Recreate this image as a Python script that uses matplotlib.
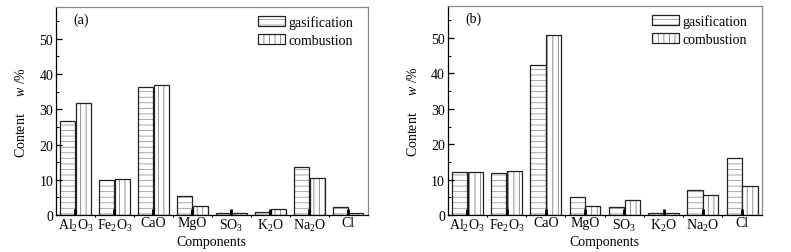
import matplotlib
matplotlib.use("Agg")
import matplotlib.pyplot as plt
import numpy as np
from matplotlib.ticker import MultipleLocator, FixedLocator

plt.rcParams['font.family'] = ['Liberation Serif', 'DejaVu Serif']
plt.rcParams['mathtext.fontset'] = 'custom'
plt.rcParams['mathtext.rm'] = 'Liberation Serif'
plt.rcParams['mathtext.it'] = 'Liberation Serif:italic'
plt.rcParams['mathtext.default'] = 'rm'
plt.rcParams['hatch.linewidth'] = 0.6

categories = ['Al$_2$O$_3$', 'Fe$_2$O$_3$', 'CaO', 'MgO', 'SO$_3$', 'K$_2$O', 'Na$_2$O', 'Cl']
series_names = ['gasification', 'combustion']
gas_a = [26.8, 10.0, 36.3, 5.4, 0.7, 0.85, 13.6, 2.3]
comb_a = [31.7, 10.3, 36.8, 2.6, 0.7, 1.8, 10.6, 0.7]
gas_b = [12.2, 12.0, 42.5, 5.0, 2.3, 0.5, 7.2, 16.1]
comb_b = [12.2, 12.5, 50.9, 2.5, 4.2, 0.5, 5.8, 8.2]
panel_labels = ['(a)', '(b)']
yticks = [0, 10, 20, 30, 40, 50]

fig = plt.figure(figsize=(7.91, 2.53), dpi=100)
positions = [[0.0708, 0.146, 0.394, 0.822], [0.566, 0.146, 0.397, 0.826]]
data = [(gas_a, comb_a), (gas_b, comb_b)]

x = np.arange(len(categories))
w = 0.385
for pos, (g, c), lab in zip(positions, data, panel_labels):
    ax = fig.add_axes(pos)
    b1 = ax.bar(x - 0.2, g, w, facecolor='white', edgecolor='#222222', hatch='---',
                linewidth=0.9, label=series_names[0])
    b2 = ax.bar(x + 0.2, c, w, facecolor='white', edgecolor='#222222', hatch='|||',
                linewidth=0.9, label=series_names[1])
    for b in list(b1):
        b._hatch_color = (0.6, 0.6, 0.6, 1)
    for b in list(b2):
        b._hatch_color = (0.5, 0.5, 0.5, 1)
    ax.set_xlim(-0.5, 7.5)
    ax.set_ylim(0, 59)
    ax.set_yticks(yticks)
    ax.yaxis.set_minor_locator(MultipleLocator(5))
    ax.set_xticks(x)
    ax.set_xticklabels(categories)
    ax.xaxis.set_minor_locator(FixedLocator(np.arange(0.5, 7.5, 1)))
    ax.tick_params(axis='y', which='major', direction='in', labelsize=10,
                   length=4, width=0.9, pad=2)
    ax.tick_params(axis='x', which='major', direction='in', labelsize=10,
                   width=2, length=4, pad=1)
    ax.tick_params(axis='both', which='minor', direction='in', length=2, width=0.8)
    ax.tick_params(axis='x', which='minor', direction='out', length=1.5)
    ax.set_xlabel('Components', fontsize=10)
    ax.xaxis.set_label_coords(0.5, -0.097)
    ax.set_ylabel('Content     $\\mathit{w}$ /%', fontsize=10, labelpad=8)
    for s in ax.spines.values():
        s.set_linewidth(0.9)
    for s in ['top', 'right']:
        ax.spines[s].set_color('#888888')
    ax.text(0.055, 0.94, lab, transform=ax.transAxes, fontsize=10, va='center', ha='left')
    ax.legend(loc='upper right', frameon=False, fontsize=10, handlelength=2.0,
              handleheight=0.75, labelspacing=0.35, handletextpad=0.2,
              borderaxespad=0.2, bbox_to_anchor=(0.98, 1.0))

fig.savefig('out.png', dpi=100)
